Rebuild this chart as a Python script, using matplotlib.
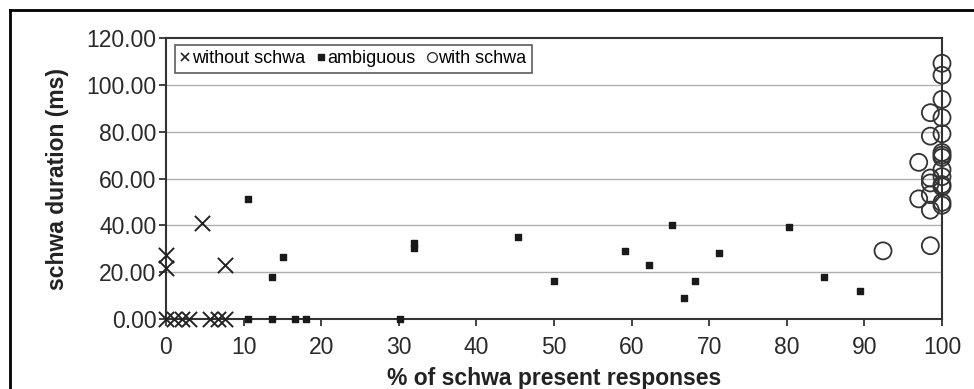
import matplotlib
matplotlib.use("Agg")
import matplotlib.pyplot as plt
from matplotlib.lines import Line2D

plt.rcParams["font.family"] = ["Liberation Sans", "DejaVu Sans"]

# without schwa (x markers)
without_x = [0, 0, 0, 1, 2, 3, 5.7, 6.7, 7.6, 4.6, 7.6]
without_y = [0, 21.7, 27.4, 0, 0, 0, 0, 0, 0, 41, 23]

# ambiguous (small filled squares)
ambig_x = [10.6, 13.6, 16.6, 18.1, 30.2, 10.6, 15.1, 13.6, 31.9, 31.9,
           45.4, 50.0, 59.1, 62.2, 65.2, 66.7, 68.2, 71.3, 80.3, 84.8, 89.4]
ambig_y = [0, 0, 0, 0, 0, 51.3, 26.3, 18.1, 30.3, 32.4,
           35.2, 16.3, 29.1, 23.1, 40.3, 9.1, 16.3, 28.1, 39.1, 18.1, 12.1]

# with schwa (open circles)
with_x = [100, 100, 100, 100, 100, 100, 100, 100, 100, 100, 100, 100, 100, 100,
          98.5, 98.5, 98.5, 98.5, 98.5, 98.5, 98.5,
          97.0, 97.0, 92.4]
with_y = [109.2, 104.1, 93.8, 86.0, 79.1, 71.1, 70.0, 69.0, 63.8, 60.8, 57.4, 56.5, 49.8, 48.6,
          88.1, 78.1, 60.2, 58.1, 53.1, 46.5, 31.3,
          66.9, 51.3, 29.1]

xticks = [0, 10, 20, 30, 40, 50, 60, 70, 80, 90, 100]
yticks = [0, 20, 40, 60, 80, 100, 120]

fig = plt.figure(figsize=(9.74, 3.89), dpi=100)
ax = fig.add_axes([166 / 974, 1 - 319 / 389, (942 - 166) / 974, (319 - 38) / 389])

ax.scatter(without_x, without_y, marker="x", s=120, color="#222222",
           linewidths=1.4, zorder=3, clip_on=False)
ax.scatter(ambig_x, ambig_y, marker="s", s=22, color="#1a1a1a",
           zorder=3, clip_on=False)
ax.scatter(with_x, with_y, marker="o", s=150, facecolors="none",
           edgecolors="#333333", linewidths=1.3, zorder=4, clip_on=False)

ax.set_xlim(0, 100)
ax.set_ylim(0, 120)
ax.set_xticks(xticks)
ax.set_yticks(yticks)
ax.set_yticklabels([f"{v:.2f}" for v in yticks])
ax.tick_params(axis="both", labelsize=16.5, length=5, width=1.3,
               color="#333333", labelcolor="#2a2a2a", direction="out")
ax.tick_params(axis="x", pad=7)
ax.tick_params(axis="y", pad=2)

for sp in ax.spines.values():
    sp.set_color("#333333")
    sp.set_linewidth(1.5)

for v in yticks[1:-1]:
    ax.axhline(v, color="#b0b0b0", linewidth=1.0, zorder=1)

ax.set_xlabel("% of schwa present responses", fontsize=16.5, fontweight="bold",
              color="#222222", labelpad=6)
ax.set_ylabel("schwa duration (ms)", fontsize=16.5, fontweight="bold",
              color="#222222", labelpad=12)

handles = [
    Line2D([], [], marker="x", linestyle="none", color="#222222", markersize=6, markeredgewidth=1.2),
    Line2D([], [], marker="s", linestyle="none", color="#1a1a1a", markersize=5),
    Line2D([], [], marker="o", linestyle="none", markerfacecolor="none",
           markeredgecolor="#333333", markersize=7, markeredgewidth=1.0),
]
leg = ax.legend(handles, ["without schwa", "ambiguous", "with schwa"],
                loc="upper left", bbox_to_anchor=(0.011, 0.975), ncol=3,
                fontsize=13, frameon=True, fancybox=False, handlelength=0.6,
                handletextpad=0.05, columnspacing=0.6, borderpad=0.3,
                borderaxespad=0)
leg.get_frame().set_edgecolor("#333333")
leg.get_frame().set_linewidth(1.2)

# outer frame (left and top edges visible in the reference)
fig.add_artist(Line2D([10 / 974, 10 / 974], [0, 1 - 10 / 389], color="black",
                      linewidth=2, transform=fig.transFigure))
fig.add_artist(Line2D([10 / 974, 1], [1 - 10 / 389, 1 - 10 / 389], color="black",
                      linewidth=2, transform=fig.transFigure))

fig.savefig("out.png", dpi=100)
